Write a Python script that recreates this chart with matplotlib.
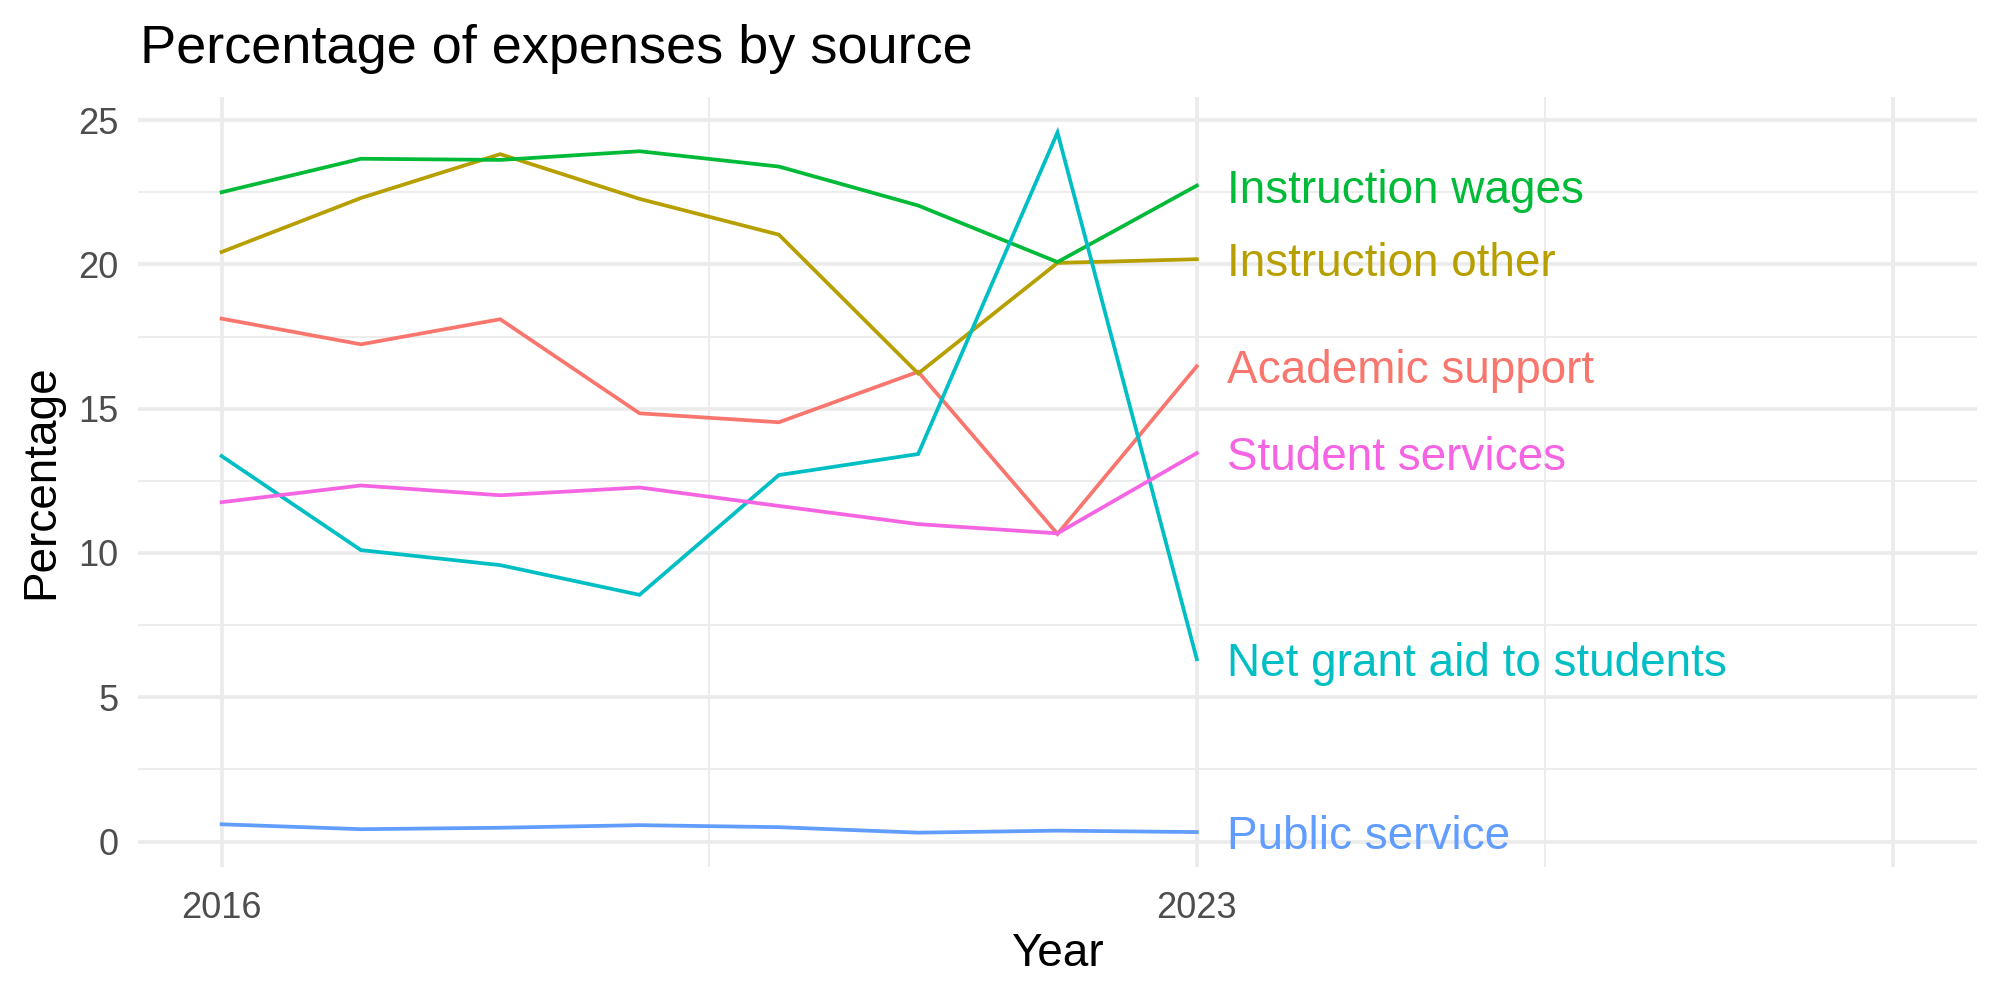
import numpy as np
import matplotlib
matplotlib.use("Agg")
import matplotlib.pyplot as plt
from matplotlib.transforms import offset_copy

plt.rcParams['font.family'] = ['Liberation Sans', 'DejaVu Sans']

# Data
years = [2016, 2017, 2018, 2019, 2020, 2021, 2022, 2023]
academic_support = [18.12, 17.23, 18.10, 14.84, 14.53, 16.28, 10.66, 16.47]
instruction_other = [20.43, 22.30, 23.82, 22.27, 21.03, 16.22, 20.05, 20.18]
instruction_wages = [22.50, 23.66, 23.62, 23.92, 23.39, 22.04, 20.08, 22.73]
net_grant_aid = [13.36, 10.10, 9.58, 8.55, 12.70, 13.43, 24.57, 6.32]
public_service = [0.60, 0.43, 0.48, 0.57, 0.50, 0.31, 0.38, 0.33]
student_services = [11.76, 12.34, 12.00, 12.27, 11.63, 11.00, 10.68, 13.46]

series = {
    "Academic support": (academic_support, "#F8766D"),
    "Instruction other": (instruction_other, "#B79F00"),
    "Instruction wages": (instruction_wages, "#00BA38"),
    "Net grant aid to students": (net_grant_aid, "#00BFC4"),
    "Public service": (public_service, "#619CFF"),
    "Student services": (student_services, "#F564E3"),
}

fig = plt.figure(figsize=(10, 5), dpi=200)
ax = fig.add_axes([0.069, 0.133, 0.9195, 0.77])

grid = "#EBEBEB"
for sp in ax.spines.values():
    sp.set_visible(False)

ax.set_xlim(2015.4, 2028.6)
ax.set_ylim(-0.88, 25.8)
ax.set_xticks([2016, 2023, 2028])
ax.set_xticklabels(["2016", "2023", ""])
ax.set_xticks([2019.5, 2025.5], minor=True)
ax.set_yticks([0, 5, 10, 15, 20, 25])
ax.set_yticks([2.5, 7.5, 12.5, 17.5, 22.5], minor=True)
ax.tick_params(which="both", length=0)
ax.tick_params(axis="both", labelsize=13, labelcolor="#4D4D4D")
ax.tick_params(axis="x", pad=8.5)
ax.tick_params(axis="y", pad=7)
ax.grid(which="major", color=grid, linewidth=1.3)
ax.grid(which="minor", color=grid, linewidth=0.65)
ax.set_axisbelow(True)

# labels nudged right of the last point, slightly down like ggplot's text
lab_tr = offset_copy(ax.transData, fig=fig, x=11, y=-1.8, units="points")
for name, (vals, col) in series.items():
    ax.plot(years, vals, color=col, linewidth=1.35, solid_joinstyle="miter")
    ax.text(years[-1], vals[-1], name, color=col, fontsize=16.5,
            ha="left", va="center", transform=lab_tr)

ax.set_xlabel("Year", fontsize=16.5, va="center")
ax.xaxis.set_label_coords(0.5, -0.113)
ax.set_ylabel("Percentage", fontsize=16.5, va="center")
ax.yaxis.set_label_coords(-0.0527, 0.5)
fig.text(0.07, 0.951, "Percentage of expenses by source", fontsize=19.5,
         ha="left", va="center")

fig.savefig("out.png", dpi=200)
